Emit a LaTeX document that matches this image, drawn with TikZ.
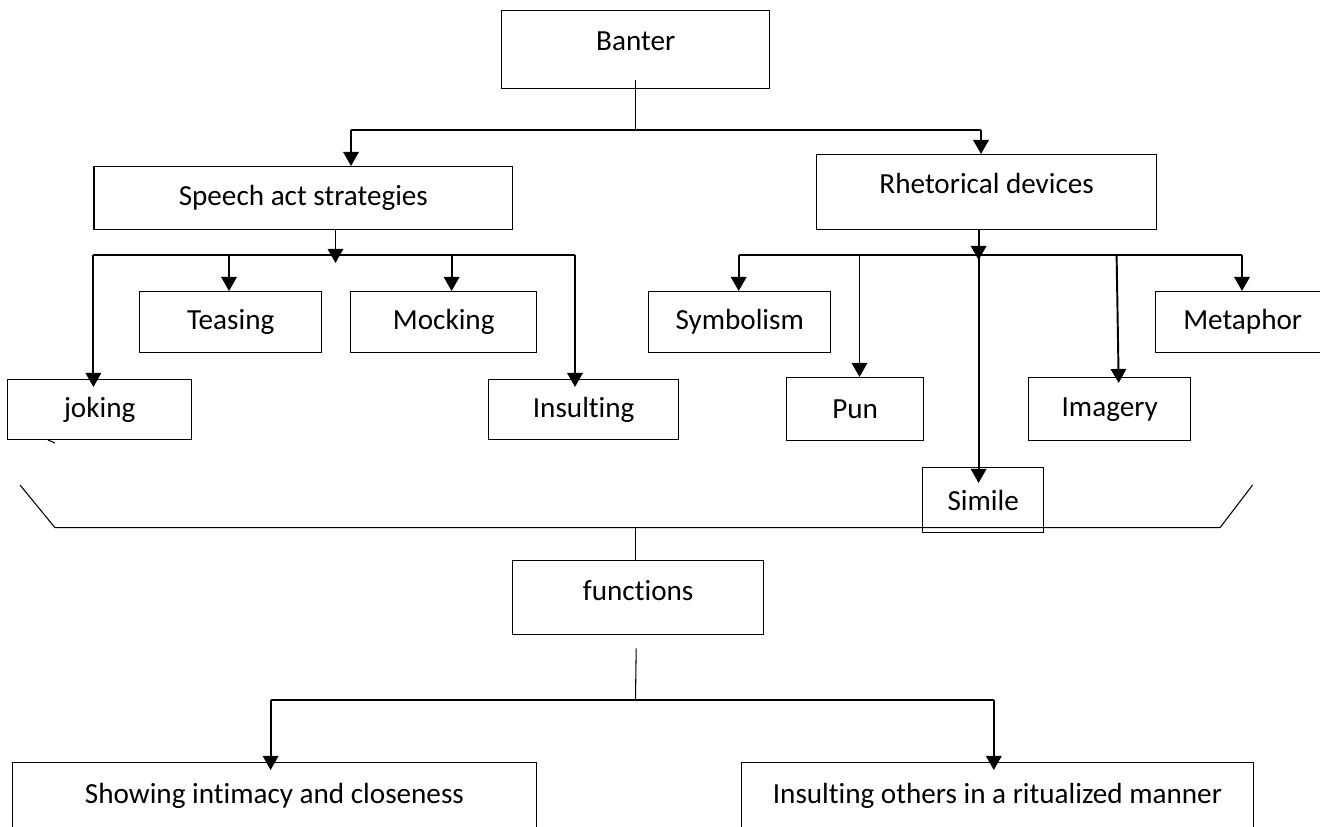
\documentclass[tikz,border=0pt]{standalone}
\usepackage{fontspec}
\setmainfont{Carlito}[Ligatures=NoCommon]
\usepackage{tikz}
\usetikzlibrary{arrows.meta}
\tikzset{
  post/.style={->,>={Triangle[width=8.8pt,length=8pt]},line width=1.1pt},
  plain/.style={line width=0.6pt},
  trunk/.style={line width=1.1pt},
}

\begin{document}
\begin{tikzpicture}[x=0.02cm,y=-0.02cm,
        box/.style={rectangle, draw=black, line width=0.8pt, inner sep=0pt, anchor=north west,
        align=center, font={\fontsize{16.6}{20}\selectfont}},
        ]
    \useasboundingbox (0,0) rectangle (1320,827);
    \clip (0,0) rectangle (1320,827);

    \node[box, minimum width=5.36cm, minimum height=1.56cm, text height=0.79cm, text depth=0.77cm] (banter) at (501,10) {Banter};
    \node[box, minimum width=8.37cm, minimum height=1.26cm] (speech) at (93.4,166) {Speech act strategies};
    \node[box, minimum width=6.8cm, minimum height=1.5cm, text height=0.77cm, text depth=0.73cm] (rhet) at (816,154) {Rhetorical devices};

    \node[box, minimum width=3.64cm, minimum height=1.22cm] (teasing) at (139,291) {Teasing};
    \node[box, minimum width=3.72cm, minimum height=1.22cm] (mocking) at (350,291) {Mocking};
    \node[box, minimum width=3.68cm, minimum height=1.2cm] (joking) at (7,379) {joking};
    \node[box, minimum width=3.8cm, minimum height=1.2cm] (insult) at (488,379) {Insulting};

    \node[box, minimum width=3.64cm, minimum height=1.22cm] (symbol) at (648,291) {Symbolism};
    \node[box, minimum width=3.48cm, minimum height=1.22cm] (metaphor) at (1155,291) {Metaphor};
    \node[box, minimum width=2.74cm, minimum height=1.26cm] (pun) at (786,377) {Pun};
    \node[box, minimum width=3.24cm, minimum height=1.26cm] (imagery) at (1028,377) {Imagery};
    \node[box, minimum width=2.42cm, minimum height=1.3cm] (simile) at (922,467) {Simile};

    \node[box, minimum width=5.02cm, minimum height=1.48cm, text height=0.79cm, text depth=0.69cm] (func) at (512,560) {functions};
    \node[box, minimum width=10.48cm, minimum height=2cm, text height=0.81cm, text depth=1.19cm] (intimacy) at (11.8,762) {Showing intimacy and closeness};
    \node[box, minimum width=10.24cm, minimum height=2cm, text height=0.81cm, text depth=1.19cm] (ritual) at (740.8,762) {Insulting others in a ritualized manner};

    % banter
    \coordinate (bl) at (351,130);
    \coordinate (br) at (981,130);
    \draw[plain] (banter.south) ++(0,-9) -- (banter.south |- bl);
    \draw[plain] (bl) -- (br);
    \draw[post] (bl) -- (bl |- speech.north);
    \draw[post] (br) -- (br |- rhet.north);

    % speech act strategies
    \coordinate (sa) at (335.5,255);
    \coordinate (sj) at (93.4,255);
    \coordinate (st) at (229,255);
    \coordinate (sm) at (451.6,255);
    \coordinate (si) at (575,255);
    \draw[post] (sa |- speech.south) -- ([yshift=-0.16cm]sa);
    \draw[trunk] (sj) -- (si);
    \draw[post] (st) -- (st |- teasing.north);
    \draw[post] (sm) -- (sm |- mocking.north);
    \draw[post, shorten >=-0.16cm] (sj) -- (sj |- joking.north);
    \draw[post, shorten >=-0.16cm] (si) -- (si |- insult.north);
    \draw[plain] (48,440) -- (55,443);

    % rhetorical devices
    \coordinate (rs) at (978.6,255);
    \coordinate (ry) at (738.7,255);
    \coordinate (rp) at (859.5,255);
    \coordinate (ri) at (1116.6,255);
    \coordinate (rm) at (1242,255);
    \draw[post] (rs |- rhet.south) -- ([yshift=-0.1cm]rs);
    \draw[trunk] (ry) -- (rm);
    \draw[post] (ry) -- (ry |- symbol.north);
    \draw[post] (rp) -- (rp |- pun.north);
    \draw[post] (rm) -- (rm |- metaphor.north);
    \draw[post, shorten >=-0.12cm] (ri) -- ([xshift=0.04cm]ri |- imagery.north);
    \draw[post, shorten >=-0.32cm] (rs) -- (rs |- simile.north);

    % functions
    \coordinate (kl) at (20,485);
    \coordinate (kr) at (1252.6,485);
    \coordinate (kb) at (635.5,527.7);
    \draw[plain] (kl) -- (55,527.7) -- (1220,527.7) -- (kr);
    \draw[trunk] (kb) -- (kb |- func.north);

    \coordinate (fs) at (635.5,700);
    \coordinate (fl) at (270.6,700);
    \coordinate (fr) at (993.8,700);
    \draw[plain] (func.south) ++(-2,13) -- (fs);
    \draw[line width=0.8pt] (fl) -- (fr);
    \draw[post, shorten >=-0.16cm] (fl) -- (fl |- intimacy.north);
    \draw[post, shorten >=-0.16cm] (fr) -- (fr |- ritual.north);

\end{tikzpicture}
\end{document}
